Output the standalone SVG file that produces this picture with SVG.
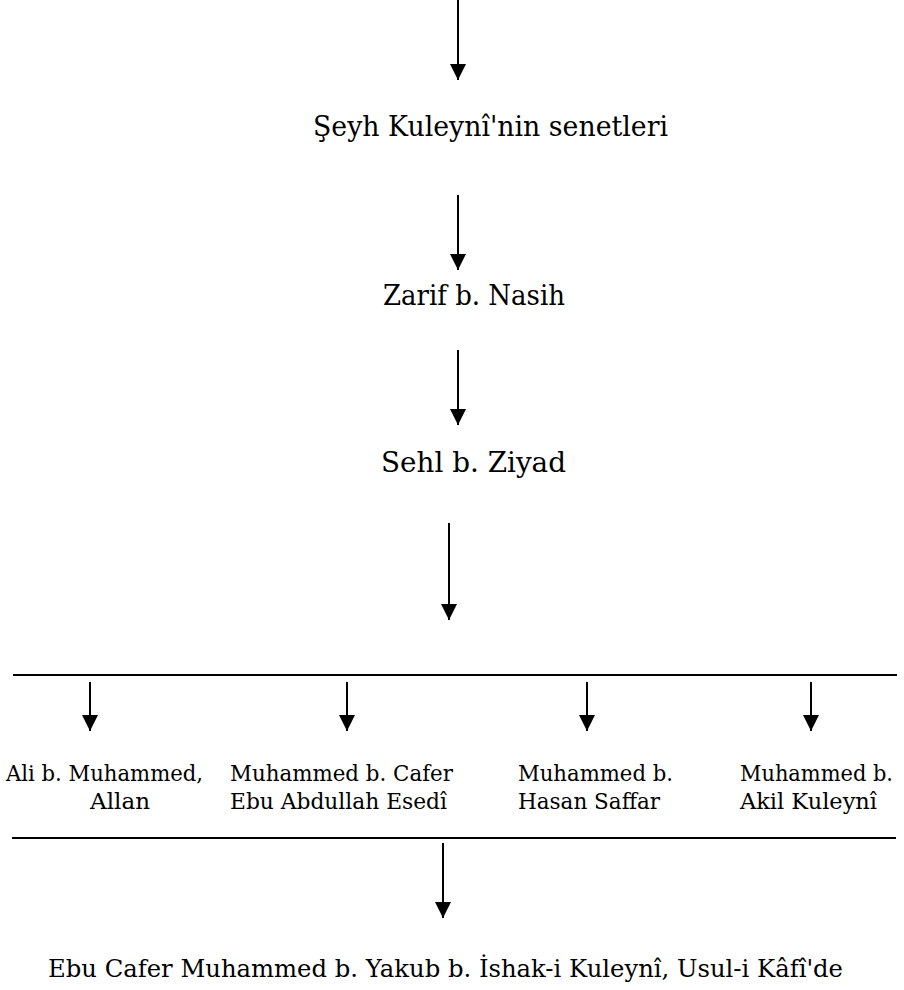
<svg xmlns="http://www.w3.org/2000/svg" width="904" height="990" viewBox="0 0 904 990">
<defs>
<marker id="ah" markerUnits="userSpaceOnUse" markerWidth="16" markerHeight="16" refX="16" refY="8" orient="auto" viewBox="0 0 16 16">
<path d="M0,0 L16,8 L0,16 z" fill="#000"/>
</marker>
<style>
.t{font-family:"DejaVu Serif","Liberation Serif",serif;font-size:27px;fill:#000}
.s{font-family:"DejaVu Serif","Liberation Serif",serif;font-size:23px;fill:#000}
.b{font-family:"DejaVu Serif","Liberation Serif",serif;font-size:25px;fill:#000}
.c{stroke:#000;stroke-width:2;fill:none;marker-end:url(#ah)}
.h{stroke:#000;stroke-width:2}
</style>
</defs>
<rect width="904" height="990" fill="#fff"/>
<g id="connectors">
<line class="c" x1="458" y1="0" x2="458" y2="80"/>
<line class="c" x1="458" y1="195" x2="458" y2="270"/>
<line class="c" x1="458" y1="350" x2="458" y2="425"/>
<line class="c" x1="449" y1="523" x2="449" y2="620"/>
<line class="h" x1="13" y1="675" x2="897" y2="675"/>
<line class="c" x1="90" y1="682" x2="90" y2="731"/>
<line class="c" x1="347" y1="682" x2="347" y2="731"/>
<line class="c" x1="587" y1="682" x2="587" y2="731"/>
<line class="c" x1="811" y1="682" x2="811" y2="731"/>
<line class="h" x1="12" y1="838" x2="896" y2="838"/>
<line class="c" x1="443" y1="843" x2="443" y2="918"/>
</g>
<g id="n1"><text class="t" x="313" y="136" textLength="355" lengthAdjust="spacingAndGlyphs">Şeyh Kuleynî'nin senetleri</text></g>
<g id="n2"><text class="t" x="383" y="305" textLength="182" lengthAdjust="spacingAndGlyphs">Zarif b. Nasih</text></g>
<g id="n3"><text class="t" x="381" y="472" textLength="185" lengthAdjust="spacingAndGlyphs">Sehl b. Ziyad</text></g>
<g id="n4">
<text class="s" x="6" y="781" textLength="197" lengthAdjust="spacingAndGlyphs">Ali b. Muhammed,</text>
<text class="s" x="90" y="809" textLength="60" lengthAdjust="spacingAndGlyphs">Allan</text>
</g>
<g id="n5">
<text class="s" x="230" y="781" textLength="223" lengthAdjust="spacingAndGlyphs">Muhammed b. Cafer</text>
<text class="s" x="230" y="809" textLength="217" lengthAdjust="spacingAndGlyphs">Ebu Abdullah Esedî</text>
</g>
<g id="n6">
<text class="s" x="518" y="781" textLength="155" lengthAdjust="spacingAndGlyphs">Muhammed b.</text>
<text class="s" x="518" y="809" textLength="142" lengthAdjust="spacingAndGlyphs">Hasan Saffar</text>
</g>
<g id="n7">
<text class="s" x="740" y="781" textLength="153" lengthAdjust="spacingAndGlyphs">Muhammed b.</text>
<text class="s" x="740" y="809" textLength="137" lengthAdjust="spacingAndGlyphs">Akil Kuleynî</text>
</g>
<g id="n8"><text class="b" x="48" y="977" textLength="795" lengthAdjust="spacingAndGlyphs">Ebu Cafer Muhammed b. Yakub b. İshak-i Kuleynî, Usul-i Kâfî'de</text></g>
</svg>
